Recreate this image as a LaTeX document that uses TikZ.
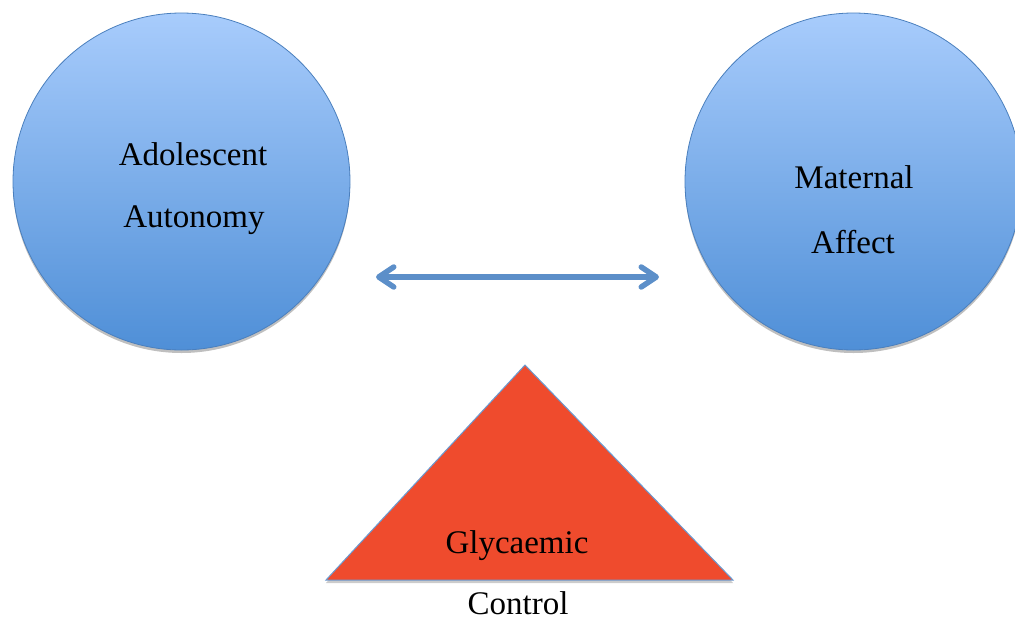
\documentclass[tikz,border=0pt]{standalone}
\usepackage{fontspec}
\setmainfont{Liberation Serif}
\usetikzlibrary{arrows.meta,shadows}
\definecolor{ctop}{HTML}{A8CCFC}
\definecolor{cbot}{HTML}{4F8FD7}
\definecolor{cline}{HTML}{4A7FBD}
\definecolor{arrcol}{HTML}{5C8FC9}
\definecolor{trifill}{HTML}{EF4B2D}
\definecolor{triline}{HTML}{6A9BD2}
\tikzset{
  bubble/.style={circle, minimum size=337pt, inner sep=0pt, draw=cline, line width=0.8pt,
    top color=ctop, bottom color=cbot,
    drop shadow={shadow xshift=0pt, shadow yshift=-3pt, opacity=0.25, fill=black}},
  lbl/.style={anchor=base, inner sep=0pt, font=\fontsize{33}{40}\selectfont},
  link/.style={draw=arrcol, line width=5.5pt, line cap=round,
    {Straight Barb[length=15pt,width=20pt,round]}-{Straight Barb[length=15pt,width=20pt,round]}},
  tri/.style={fill=trifill, draw=triline, line width=1pt,
    drop shadow={shadow xshift=0pt, shadow yshift=-3pt, opacity=0.2, fill=black}}
}
\begin{document}
\begin{tikzpicture}[x=1pt,y=-1pt]
\useasboundingbox (0,0) rectangle (1015,619);
\clip (0,0) rectangle (1015,619);
\node[bubble] (A) at (181.5,181.5) {};
\node[bubble] (M) at (853.5,181.5) {};
\node[lbl] (a1) at (193,165) {Adolescent};
\node[lbl] (a2) at (194,227) {Autonomy};
\node[lbl] (m1) at (854,188) {Maternal};
\node[lbl] (m2) at (853,253) {Affect};
\coordinate (aL) at (376,277);
\coordinate (aR) at (659,277);
\draw[link] (aL) -- (aR);
\coordinate (t1) at (326,580);
\coordinate (t2) at (525,365);
\coordinate (t3) at (733,580);
\path[tri] (t1) -- (t2) -- (t3) -- cycle;
\node[lbl] (g1) at (517,553) {Glycaemic};
\node[lbl] (g2) at (518,614) {Control};
\end{tikzpicture}
\end{document}
